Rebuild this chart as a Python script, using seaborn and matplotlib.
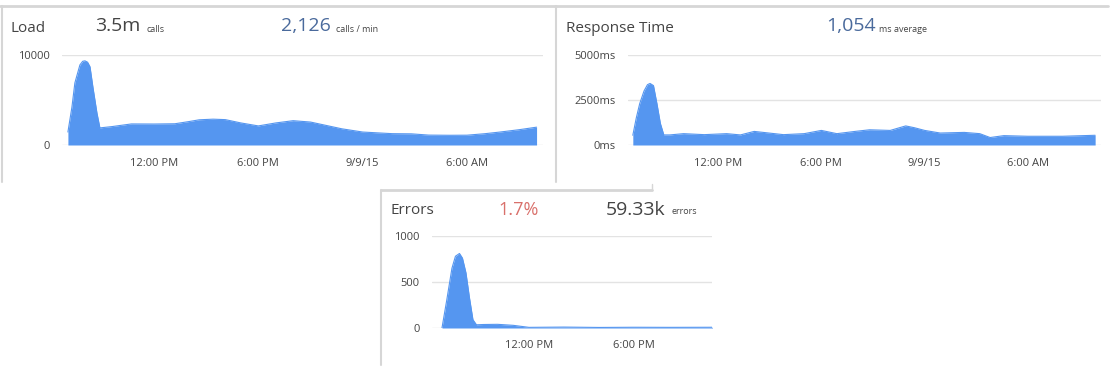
import numpy as np
import pandas as pd
import seaborn as sns
import matplotlib
matplotlib.use("Agg")
import matplotlib.pyplot as plt
from matplotlib.lines import Line2D

# hours since midnight of 9/8/15
load_hours = [7.05, 7.28, 7.45, 7.74, 7.9, 8.03, 8.18, 8.32, 8.49, 8.72, 8.89, 9.6, 10.7, 12.0, 13.2,
              14.0, 14.6, 15.4, 16.1, 17.0, 18.0, 19.0, 20.0, 21.0, 21.6, 22.8, 24.0, 25.7, 26.8,
              27.8, 29.0, 30.0, 31.0, 31.9, 33.0, 34.0]
load_calls = [1440, 4200, 6900, 8900, 9300, 9350, 9200, 8700, 6400, 3550, 1900, 2050, 2340, 2330, 2360,
              2600, 2800, 2870, 2820, 2450, 2120, 2450, 2700, 2550, 2300, 1800, 1440, 1260, 1240,
              1100, 1080, 1090, 1250, 1440, 1700, 1980]

resp_hours = [7.05, 7.25, 7.45, 7.7, 7.9, 8.05, 8.25, 8.45, 8.65, 8.85, 9.2, 10.0, 11.2, 12.5, 13.3,
              14.1, 15.0, 15.8, 17.0, 18.0, 18.9, 20.0, 20.8, 22.0, 22.5, 22.9, 23.4, 24.0, 24.9,
              26.3, 27.2, 27.8, 28.6, 30.0, 32.0, 33.9]
resp_ms = [540, 1500, 2300, 3000, 3350, 3420, 3300, 2300, 1200, 560, 560, 630, 575, 630, 560,
           755, 660, 575, 630, 810, 630, 760, 845, 810, 950, 1060, 960, 810, 665,
           700, 630, 415, 520, 485, 485, 540]

err_hours = [7.03, 7.3, 7.6, 7.8, 8.03, 8.2, 8.4, 8.6, 8.8, 9.0, 9.4, 10.2, 11.1, 12.0, 14.0,
             16.0, 18.0, 20.0, 22.5]
err_count = [0, 300, 650, 780, 810, 760, 600, 330, 90, 35, 38, 40, 29, 7, 10,
             6, 8, 7, 8]

tick_hours = [12, 18, 24, 30]
tick_labels = ["12:00 PM", "6:00 PM", "9/9/15", "6:00 AM"]

W, H = 1111, 377
FILL = "#5596f0"
GRID = "#e3e3e3"
TXT = "#444444"
BLUE = "#4a6a9c"
RED = "#d9706b"

sns.set_style("white")
plt.rcParams["font.family"] = ["Open Sans", "DejaVu Sans"]

fig = plt.figure(figsize=(W / 100, H / 100), dpi=100)


def box(x0, y0, x1, y1):
    return [x0 / W, 1 - y1 / H, (x1 - x0) / W, (y1 - y0) / H]


def area_chart(rect, hours, vals, xlim, ylim, yticks, ylabels, xt, xl):
    ax = fig.add_axes(rect)
    df = pd.DataFrame({"h": hours, "v": vals})
    sns.lineplot(data=df, x="h", y="v", ax=ax, color=FILL, linewidth=0.8)
    ax.fill_between(df["h"], df["v"], color=FILL, linewidth=0)
    ax.set_xlim(*xlim)
    ax.set_ylim(*ylim)
    ax.set_yticks(yticks)
    ax.set_yticklabels(ylabels)
    ax.set_xticks(xt)
    ax.set_xticklabels(xl)
    ax.set_xlabel("")
    ax.set_ylabel("")
    for s in ax.spines.values():
        s.set_visible(False)
    ax.grid(axis="y", color=GRID, linewidth=1)
    ax.grid(axis="x", visible=False)
    ax.set_axisbelow(True)
    ax.tick_params(axis="y", length=0, pad=9, labelsize=8, labelcolor=TXT)
    ax.tick_params(axis="x", length=4, color="#cccccc", pad=5, labelsize=8, labelcolor=TXT)
    return ax


area_chart(box(62, 55, 543, 145), load_hours, load_calls, (6.71, 34.37), (0, 10000),
           [0, 10000], ["0", "10000"], tick_hours, tick_labels)
area_chart(box(628, 55, 1101, 145), resp_hours, resp_ms, (6.77, 34.24), (0, 5000),
           [0, 2500, 5000], ["0ms", "2500ms", "5000ms"], tick_hours, tick_labels)
area_chart(box(432, 236, 712, 328), err_hours, err_count, (6.46, 22.46), (0, 1000),
           [0, 500, 1000], ["0", "500", "1000"], tick_hours[:2], tick_labels[:2])


def txt(x, y, s, size, color=TXT):
    fig.text(x / W, 1 - y / H, s, fontsize=size, color=color, ha="left", va="center")


txt(10, 28, "Load", 11)
txt(95, 26, "3.5m", 14)
txt(146, 29, "calls", 6.5)
txt(281, 26, "2,126", 14, BLUE)
txt(336, 29, "calls / min", 6.5)

txt(566, 28, "Response Time", 11)
txt(826, 26, "1,054", 14, BLUE)
txt(879, 29, "ms average", 6.5)

txt(391, 211, "Errors", 11)
txt(498, 210, "1.7%", 13, RED)
txt(606, 210, "59.33k", 14)
txt(671, 212, "errors", 6.5)


def border(x0, y0, x1, y1, lw=1.5):
    fig.add_artist(Line2D([x0 / W, x1 / W], [1 - y0 / H, 1 - y1 / H],
                          color="#d6d6d6", linewidth=lw))


border(0, 6, 1108, 6, 2)
border(2, 6, 2, 182)
border(556, 6, 556, 182)
border(381, 190, 652, 190, 2)
border(381, 190, 381, 365)
border(652, 184, 652, 190, 1)

fig.savefig("out.png", dpi=100)
